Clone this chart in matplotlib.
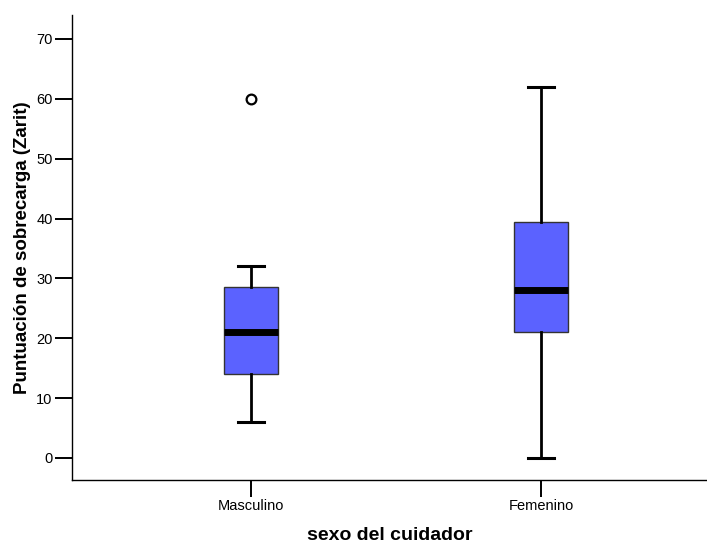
import matplotlib
matplotlib.use("Agg")
import matplotlib.pyplot as plt

# Datos (boxplot tipo SPSS)
categorias = ["Masculino", "Femenino"]
bigote_inf = [6, 0]
q1 = [14, 21]
mediana = [21, 28]
q3 = [28.5, 39.5]
bigote_sup = [32, 62]
atipicos = [[60], []]

plt.rcParams['font.family'] = ['Liberation Sans', 'DejaVu Sans']

fig = plt.figure(figsize=(7.07, 5.45), dpi=100)
ax = fig.add_axes([0.1018, 0.1193, 0.8982, 0.8532])

stats = []
for i, cat in enumerate(categorias):
    stats.append({
        'label': cat,
        'whislo': bigote_inf[i], 'q1': q1[i], 'med': mediana[i],
        'q3': q3[i], 'whishi': bigote_sup[i], 'fliers': atipicos[i],
    })

ax.bxp(stats, positions=[1, 2], widths=0.187, capwidths=0.09,
       patch_artist=True, showfliers=True,
       boxprops=dict(facecolor='#5b62ff', edgecolor='#333333', linewidth=1.0),
       medianprops=dict(color='black', linewidth=5, solid_capstyle='butt'),
       whiskerprops=dict(color='black', linewidth=2),
       capprops=dict(color='black', linewidth=2.2),
       flierprops=dict(marker='o', markerfacecolor='white', markeredgecolor='black',
                       markersize=7, markeredgewidth=1.6))

ax.set_xlim(0.383, 2.572)
ax.set_ylim(-3.68, 74.0)
ax.set_yticks(range(0, 71, 10))
ax.set_xticks([1, 2])
ax.set_xticklabels(categorias)

for s in ['top', 'right']:
    ax.spines[s].set_visible(False)
ax.spines['left'].set_linewidth(1.0)
ax.spines['bottom'].set_linewidth(1.0)
ax.tick_params(axis='both', length=12, width=1.4, labelsize=10.5, pad=2)

ax.set_ylabel("Puntuación de sobrecarga (Zarit)", fontsize=13.5, fontweight='bold')
ax.set_xlabel("sexo del cuidador", fontsize=14, fontweight='bold')
ax.yaxis.set_label_coords(-0.065, 0.5)
ax.xaxis.set_label_coords(0.5, -0.101)

fig.savefig("out.png", dpi=100)
